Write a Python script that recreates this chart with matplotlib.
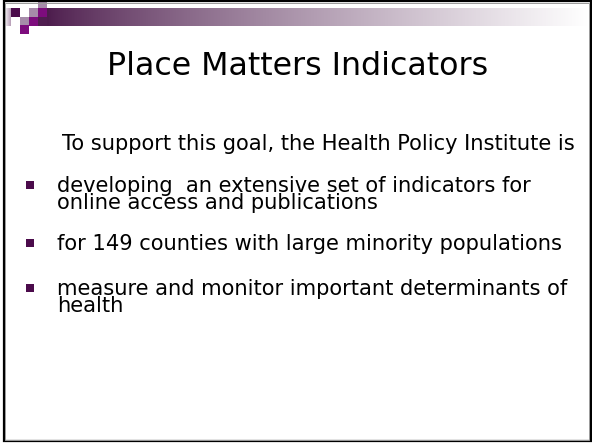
import numpy as np
import matplotlib.pyplot as plt
from matplotlib.patches import Rectangle

plt.rcParams['font.family'] = ['DejaVu Sans']

title = "Place Matters Indicators"
intro = "To support this goal, the Health Policy Institute is"
bullets = [
    ["developing  an extensive set of indicators for", "online access and publications"],
    ["for 149 counties with large minority populations"],
    ["measure and monitor important determinants of", "health"],
]

fig = plt.figure(figsize=(5.92, 4.44), dpi=100)
ax = fig.add_axes([0, 0, 1, 1])
ax.set_xlim(0, 592)
ax.set_ylim(444, 0)
ax.axis('off')
renderer = fig.canvas.get_renderer()


def fit_size(txt, width, size):
    # scale font size so the text spans the width seen on the slide
    w = txt.get_window_extent(renderer).width
    txt.set_fontsize(size * width / w)
    return size * width / w


def spacing_for(gap, size):
    # find the linespacing that puts two lines `gap` pixels apart
    one = ax.text(0, 0, "lp", fontsize=size)
    h1 = one.get_window_extent(renderer).height
    one.remove()
    hs = []
    for ls in (0.5, 1.0):
        two = ax.text(0, 0, "lp\nlp", fontsize=size, linespacing=ls)
        hs.append(two.get_window_extent(renderer).height - h1)
        two.remove()
    slope = (hs[1] - hs[0]) / 0.5
    return 0.5 + (gap - hs[0]) / slope


# header band, purple fading to white
t = np.linspace(0, 1, 256) ** 0.8
start = np.array([0.30, 0.11, 0.30])
band = start + (1 - start) * t[:, None]
ax.imshow(band[None, :, :], extent=(47, 588, 26, 8), aspect='auto', zorder=1)
t2 = np.linspace(0, 1, 32)[:, None]
fade = np.array([1, 1, 1]) + (np.array([0.72, 0.62, 0.72]) - 1) * t2
ax.imshow(fade[None, :, :], extent=(4, 11, 26, 8), aspect='auto', zorder=1)

# small squares in the corner
dark = '#4b0b4b'
mid = '#7d0c7d'
light = '#a68ba9'
squares = [(11, 8, dark), (29, 8, light), (38, -1, light), (38, 8, mid),
           (20, 17, light), (29, 17, mid), (38, 17, '#4f1d4f'), (20, 25, mid)]
for x, y, c in squares:
    ax.add_patch(Rectangle((x, y), 9, 9, color=c, lw=0, zorder=2))

# slide frame
ax.add_patch(Rectangle((3.5, 1.5), 587, 439.5, fill=False, ec='black', lw=1.6, zorder=3))
ax.add_patch(Rectangle((5, 3), 584, 436.5, fill=False, ec='#9a9a9a', lw=0.7, zorder=3))

t_title = ax.text(298, 75, title, fontsize=22, ha='center', va='baseline', color='black')
fit_size(t_title, 380, 22)
t_intro = ax.text(62, 150, intro, fontsize=15, ha='left', va='baseline', color='black')
fit_size(t_intro, 514, 15)

probe = ax.text(57, 0, bullets[1][0], fontsize=15)
body_size = fit_size(probe, 507, 15)
probe.remove()
line_gap = 16.5
ls = spacing_for(line_gap, body_size)

first_baselines = [192, 250, 295]
for lines, y in zip(bullets, first_baselines):
    ax.add_patch(Rectangle((26, y - 11.5), 8, 8, color='#4b0b4b', lw=0, zorder=2))
    last = y + line_gap * (len(lines) - 1)
    ax.text(57, last, "\n".join(lines), fontsize=body_size, ha='left',
            va='baseline', linespacing=ls, color='black')

fig.savefig('out.png', dpi=100)
